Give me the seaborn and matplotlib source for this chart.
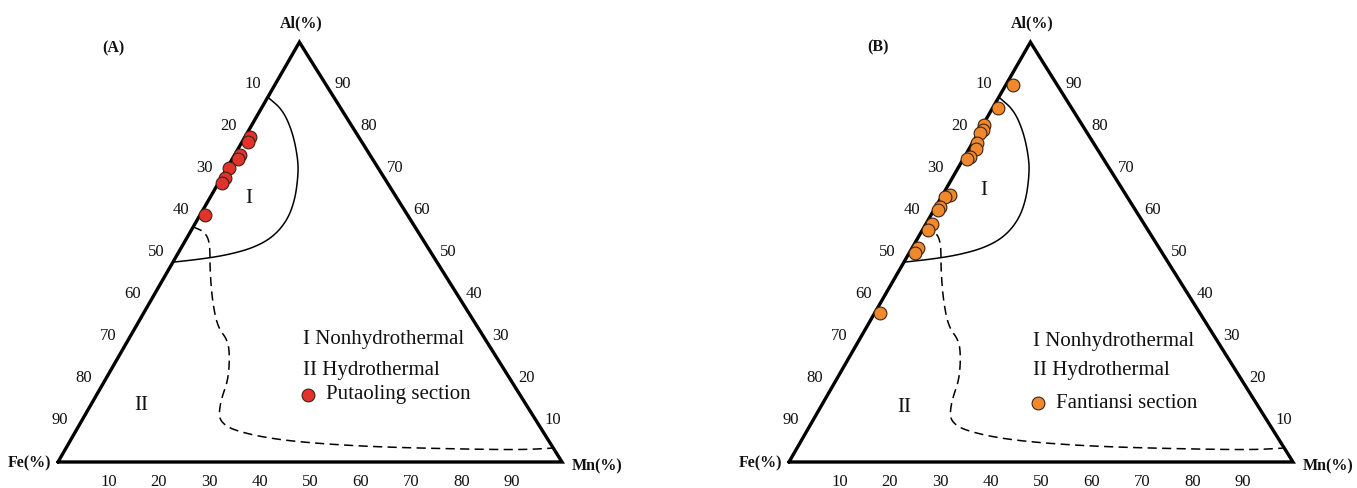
import numpy as np
import pandas as pd
import matplotlib
matplotlib.use('Agg')
import matplotlib.pyplot as plt
import seaborn as sns

# sample compositions (%)
putaoling_fe = [21.6, 22.6, 25.8, 26.7, 29.6, 31.6, 32.9, 40.2]
putaoling_mn = [1.0, 1.2, 1.1, 1.2, 0.4, 0.8, 0.7, 1.0]
putaoling_al = [77.4, 76.2, 73.1, 72.1, 70.0, 67.6, 66.4, 58.8]

fantiansi_fe = [8.8, 14.6, 19.5, 20.4, 21.3, 23.1, 24.1, 26.3, 27.1,
                34.9, 36.2, 38.4, 39.2, 42.1, 43.6, 47.8, 49.1, 63.4]
fantiansi_mn = [1.4, 1.1, 0.3, 0.6, 0.4, 0.9, 1.4, 1.1, 0.8,
                1.5, 0.7, 0.9, 0.8, 1.2, 1.2, 1.2, 1.1, 1.1]
fantiansi_al = [89.8, 84.3, 80.2, 79.0, 78.3, 76.0, 74.5, 72.6, 72.1,
                63.6, 63.1, 60.7, 60.0, 56.7, 55.2, 51.0, 49.8, 35.5]

# field I (nonhydrothermal) boundary
field1_fe = [13.1, 11.7, 12.6, 14.9, 17.0, 20.5, 24.5, 29.4, 34.7, 40.8, 46.7, 52.4]
field1_mn = [0.0, 4.5, 9.1, 13.2, 15.1, 17.1, 17.9, 17.0, 14.3, 9.9, 5.0, 0.0]
field1_al = [86.9, 83.8, 78.3, 71.9, 67.9, 62.4, 57.6, 53.6, 51.0, 49.3, 48.3, 47.6]

# field II (hydrothermal) boundary
field2_fe = [44.0, 42.3, 42.7, 45.7, 49.3, 51.6, 51.2, 52.9, 56.1, 59.4,
             62.0, 62.7, 61.3, 55.6, 47.3, 35.2, 19.0, 6.6, 0.3]
field2_mn = [0.0, 2.9, 5.2, 7.9, 12.1, 16.3, 19.8, 22.1, 24.4, 25.1,
             26.3, 27.8, 31.1, 38.7, 48.2, 61.2, 77.9, 90.5, 96.4]
field2_al = [56.0, 54.8, 52.1, 46.4, 38.6, 32.1, 29.0, 25.0, 19.5, 15.5,
             11.7, 9.5, 7.6, 5.7, 4.5, 3.6, 3.1, 2.9, 3.3]

ticks = [10, 20, 30, 40, 50, 60, 70, 80, 90]
tick_labels = [str(t) for t in ticks]

sns.set_style('white')
plt.rcParams['font.family'] = ['Liberation Serif', 'DejaVu Serif']

APEX = (0.479, 0.833)  # Al corner in plot units (Fe at 0,0 / Mn at 1,0)


def tern(mn, al):
    mn = np.asarray(mn, dtype=float) / 100
    al = np.asarray(al, dtype=float) / 100
    return mn + al * APEX[0], al * APEX[1]


def rounded(x, y, n=3):
    # chaikin corner cutting so the hand-drawn boundaries look smooth
    p = np.column_stack([x, y])
    for _ in range(n):
        q = 0.75 * p[:-1] + 0.25 * p[1:]
        r = 0.25 * p[:-1] + 0.75 * p[1:]
        mid = np.empty((2 * len(q), 2))
        mid[0::2], mid[1::2] = q, r
        p = np.vstack([p[:1], mid, p[-1:]])
    return p[:, 0], p[:, 1]


def draw_panel(ax, fe, mn, al, color, name, letter, lay):
    ax.set_xlim(lay['xlim'])
    ax.set_ylim(-26 / 504, 462 / 504)
    ax.axis('off')

    # frame
    cx, cy = tern([0, 100, 0, 0], [0, 0, 100, 0])
    ax.plot(cx, cy, color='black', lw=2.4, solid_joinstyle='miter', zorder=3)

    # field boundaries
    x1, y1 = rounded(*tern(field1_mn, field1_al))
    ax.plot(x1, y1, color='black', lw=1.1, zorder=2)
    x2, y2 = rounded(*tern(field2_mn, field2_al))
    ax.plot(x2, y2, color='black', lw=1.1, ls=(0, (6, 3.5)), zorder=2)

    # samples
    px, py = tern(mn, al)
    df = pd.DataFrame({'x': px, 'y': py})
    sns.scatterplot(data=df, x='x', y='y', ax=ax, color=color, s=85,
                    edgecolor='#3a2418', linewidth=0.8, legend=False, zorder=4)
    ax.set_xlabel('')
    ax.set_ylabel('')

    tk = dict(fontsize=12, color='#111111', ha='center', va='center')
    for t, lab in zip(ticks, tick_labels):
        x, y = tern(0, 100 - t)
        ax.text(x - 0.044, y, lab, **tk)
        x, y = tern(100 - t, t)
        ax.text(x + 0.034, y, lab, **tk)
        x, y = tern(t, 0)
        ax.text(x, y - 0.04, lab, **tk)

    ck = dict(fontsize=11.5, fontweight='bold', color='#111111', va='center')
    ax.text(0.482, 0.871, 'Al(%)', ha='center', **ck)
    ax.text(-0.014, -0.002, 'Fe(%)', ha='right', **ck)
    ax.text(1.02, -0.008, 'Mn(%)', ha='left', **ck)
    ax.text(lay['letter'][0], lay['letter'][1], letter, ha='center', **ck)

    big = dict(fontsize=15, color='#111111', va='center')
    ax.text(lay['reg1'][0], lay['reg1'][1], 'I', ha='center', **big)
    ax.text(lay['reg2'][0], lay['reg2'][1], 'II', ha='center', **big)

    lx, ly = lay['leg']
    ax.text(lx, ly[0], 'I Nonhydrothermal', ha='left', **big)
    ax.text(lx, ly[1], 'II Hydrothermal', ha='left', **big)
    ax.scatter([lx + 0.01], [ly[2]], s=85, color=color,
               edgecolor='#3a2418', linewidth=0.8, zorder=4)
    ax.text(lx + 0.046, ly[2], name, ha='left', **big)


fig = plt.figure(figsize=(13.57, 4.88), dpi=100)
axA = fig.add_axes([0, 0, 660 / 1357, 1])
axB = fig.add_axes([731 / 1357, 0, 626 / 1357, 1])

draw_panel(axA, putaoling_fe, putaoling_mn, putaoling_al, '#e3312b',
           'Putaoling section', '(A)',
           dict(xlim=(-58 / 504, 602 / 504), letter=(0.109, 0.821),
                reg1=(0.379, 0.522), reg2=(0.165, 0.113),
                leg=(0.486, (0.244, 0.1825, 0.133))))
draw_panel(axB, fantiansi_fe, fantiansi_mn, fantiansi_al, '#f0892c',
           'Fantiansi section', '(B)',
           dict(xlim=(-58 / 504, 568 / 504), letter=(0.177, 0.823),
                reg1=(0.387, 0.538), reg2=(0.228, 0.109),
                leg=(0.484, (0.240, 0.1825, 0.117))))

fig.savefig('out.png', dpi=100)
